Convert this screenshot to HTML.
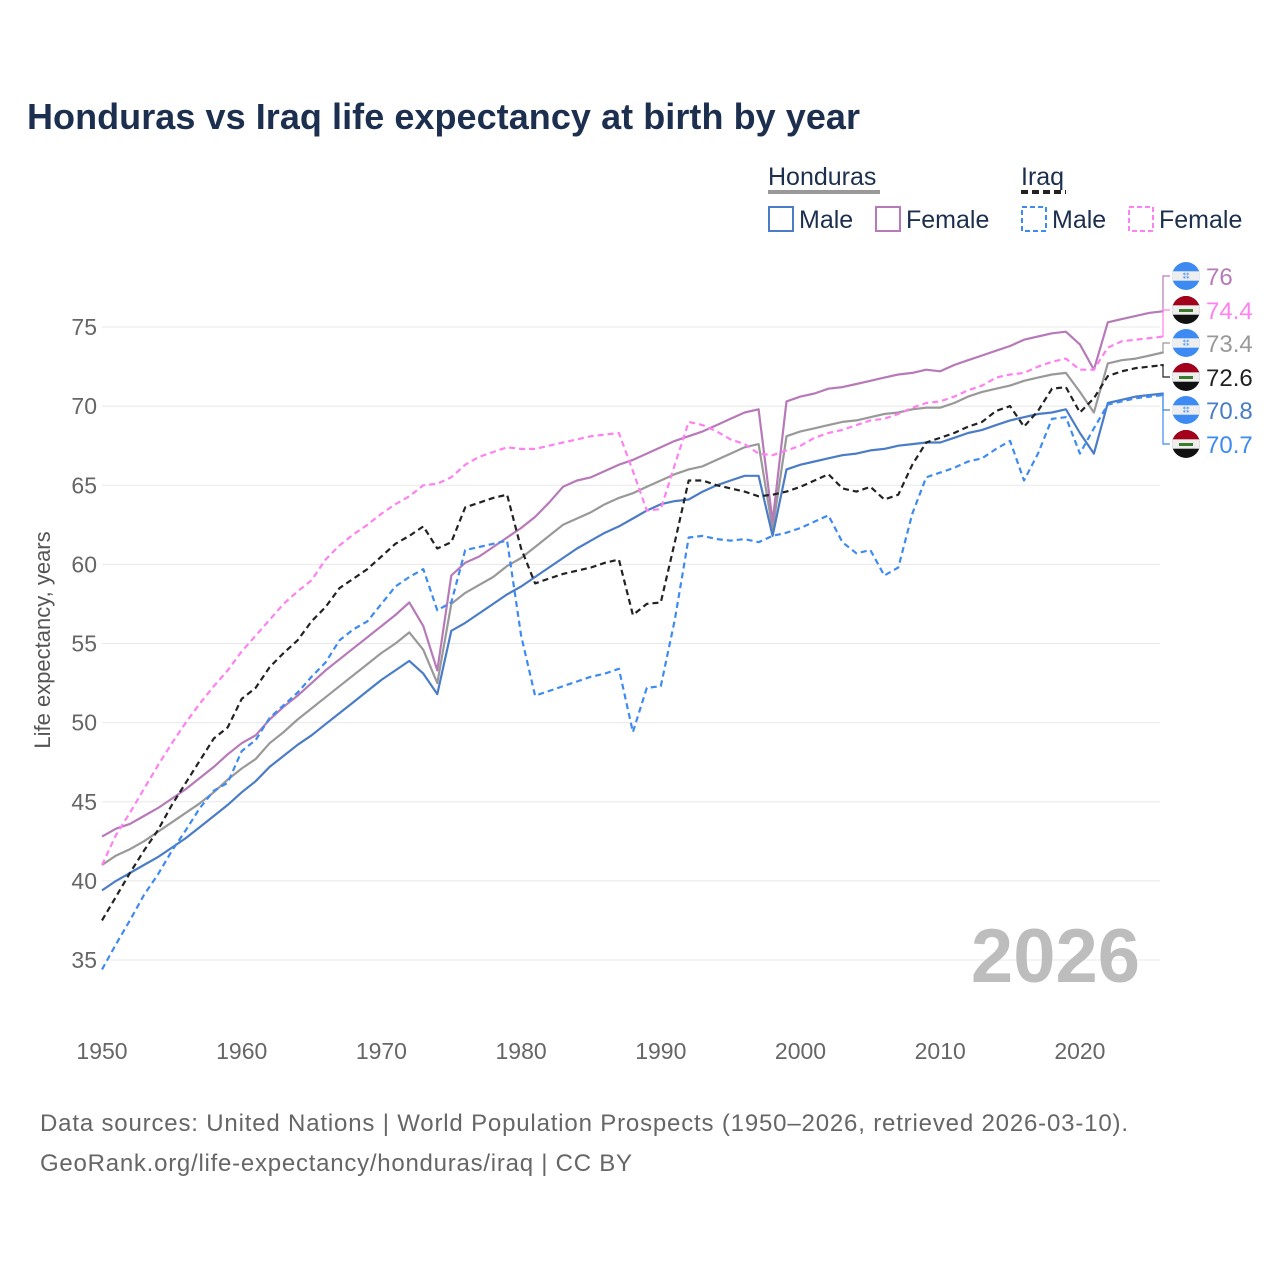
<!DOCTYPE html>
<html><head><meta charset="utf-8"><style>
body{margin:0;background:#fff;width:1280px;height:1280px;overflow:hidden;font-family:"Liberation Sans","DejaVu Sans",sans-serif}
</style></head><body>
<svg id="chart" width="1280" height="1280" xmlns="http://www.w3.org/2000/svg" font-family="Liberation Sans, DejaVu Sans, sans-serif">
<defs>
<clipPath id="cc"><circle cx="0" cy="0" r="14"/></clipPath>
</defs>
<text x="27" y="129" font-size="36" font-weight="bold" fill="#1c2f4f" textLength="833" lengthAdjust="spacing">Honduras vs Iraq life expectancy at birth by year</text>
<g font-size="25" fill="#1c2f4f">
<text x="768" y="185" fill="#1c2f4f">Honduras</text>
<line x1="768" y1="192" x2="880" y2="192" stroke="#999" stroke-width="4"/>
<text x="1021" y="185" fill="#1c2f4f">Iraq</text>
<line x1="1021" y1="192" x2="1066" y2="192" stroke="#222" stroke-width="4" stroke-dasharray="7,4"/>
<g><rect x="769" y="207" width="24" height="24" fill="none" stroke="#4a7cc7" stroke-width="2"/><text x="799" y="228">Male</text></g>
<g><rect x="876" y="207" width="24" height="24" fill="none" stroke="#b77ab8" stroke-width="2"/><text x="906" y="228">Female</text></g>
<g><rect x="1022" y="207" width="24" height="24" fill="none" stroke="#3d8bf2" stroke-width="2" stroke-dasharray="5,3"/><text x="1052" y="228">Male</text></g>
<g><rect x="1129" y="207" width="24" height="24" fill="none" stroke="#ff80f0" stroke-width="2" stroke-dasharray="5,3"/><text x="1159" y="228">Female</text></g>
</g>
<text transform="translate(50,640) rotate(-90)" text-anchor="middle" font-size="22" fill="#555">Life expectancy, years</text>
<g id="grid"></g>
<g id="xt"></g>
<text x="1140" y="982" text-anchor="end" font-size="76" font-weight="bold" fill="#bdbdbd">2026</text>
<g id="series"></g>
<g id="endlabels"></g>
<text x="40" y="1131" font-size="24" fill="#666" textLength="1088" lengthAdjust="spacing">Data sources: United Nations | World Population Prospects (1950–2026, retrieved 2026-03-10).</text>
<text x="40" y="1171" font-size="24" fill="#666" textLength="592" lengthAdjust="spacing">GeoRank.org/life-expectancy/honduras/iraq | CC BY</text>
</svg>
<script>
const years=[];for(let y=1950;y<=2026;y++)years.push(y);
const yTicks=[35,40,45,50,55,60,65,70,75];
const xTicks=[1950,1960,1970,1980,1990,2000,2010,2020];
const honMale=[39.4,40.0,40.5,41.0,41.5,42.1,42.7,43.4,44.1,44.8,45.6,46.3,47.2,47.9,48.6,49.2,49.9,50.6,51.3,52.0,52.7,53.3,53.9,53.1,51.8,55.8,56.3,56.9,57.5,58.1,58.6,59.2,59.8,60.4,61.0,61.5,62.0,62.4,62.9,63.4,63.8,64.0,64.1,64.6,65.0,65.3,65.6,65.6,61.8,66.0,66.3,66.5,66.7,66.9,67.0,67.2,67.3,67.5,67.6,67.7,67.7,68.0,68.3,68.5,68.8,69.1,69.3,69.5,69.6,69.8,68.3,67.0,70.2,70.4,70.6,70.7,70.8];
const honFemale=[42.8,43.3,43.6,44.1,44.6,45.2,45.8,46.5,47.2,48.0,48.7,49.2,50.2,51.0,51.7,52.5,53.3,54.0,54.7,55.4,56.1,56.8,57.6,56.1,53.3,59.3,60.1,60.5,61.1,61.7,62.3,63.0,63.9,64.9,65.3,65.5,65.9,66.3,66.6,67.0,67.4,67.8,68.1,68.4,68.8,69.2,69.6,69.8,62.7,70.3,70.6,70.8,71.1,71.2,71.4,71.6,71.8,72.0,72.1,72.3,72.2,72.6,72.9,73.2,73.5,73.8,74.2,74.4,74.6,74.7,73.9,72.3,75.3,75.5,75.7,75.9,76.0];
const honBoth=[41.0,41.6,42.0,42.5,43.1,43.7,44.3,44.9,45.6,46.4,47.1,47.7,48.7,49.4,50.2,50.9,51.6,52.3,53.0,53.7,54.4,55.0,55.7,54.6,52.5,57.5,58.2,58.7,59.2,59.9,60.4,61.1,61.8,62.5,62.9,63.3,63.8,64.2,64.5,64.9,65.3,65.7,66.0,66.2,66.6,67.0,67.4,67.6,62.2,68.1,68.4,68.6,68.8,69.0,69.1,69.3,69.5,69.6,69.8,69.9,69.9,70.2,70.6,70.9,71.1,71.3,71.6,71.8,72.0,72.1,70.9,69.6,72.7,72.9,73.0,73.2,73.4];
const iraqBoth=[37.5,39.0,40.5,41.9,43.2,44.8,46.2,47.6,49.0,49.7,51.5,52.2,53.5,54.4,55.2,56.4,57.3,58.5,59.1,59.7,60.5,61.3,61.8,62.4,61.0,61.4,63.6,63.9,64.2,64.4,61.0,58.8,59.1,59.4,59.6,59.8,60.1,60.3,56.8,57.5,57.6,61.4,65.3,65.3,65.0,64.8,64.6,64.3,64.4,64.6,64.9,65.3,65.7,64.8,64.6,64.9,64.1,64.4,66.3,67.7,68.0,68.3,68.7,69.0,69.7,70.0,68.7,69.7,71.1,71.2,69.6,70.5,71.9,72.2,72.4,72.5,72.6];
const iraqMale=[34.4,36.0,37.5,39.1,40.4,41.9,43.2,44.6,45.7,46.2,48.2,48.9,50.3,51.1,51.9,52.9,53.8,55.2,55.9,56.4,57.5,58.6,59.2,59.7,57.1,57.6,60.9,61.1,61.3,61.5,55.5,51.7,52.0,52.3,52.6,52.9,53.1,53.4,49.4,52.2,52.3,56.5,61.7,61.8,61.6,61.5,61.6,61.4,61.8,62.0,62.3,62.7,63.1,61.4,60.7,60.9,59.3,59.8,63.2,65.5,65.8,66.1,66.5,66.7,67.3,67.8,65.3,67.0,69.2,69.3,67.0,68.6,70.1,70.3,70.5,70.6,70.7];
const iraqFemale=[41.0,42.9,44.3,45.8,47.3,48.7,50.0,51.2,52.3,53.3,54.5,55.5,56.5,57.5,58.3,59.0,60.3,61.2,61.9,62.5,63.2,63.8,64.3,65.0,65.1,65.5,66.3,66.8,67.1,67.4,67.3,67.3,67.5,67.7,67.9,68.1,68.2,68.3,65.9,63.4,63.5,66.3,69.0,68.8,68.4,67.9,67.6,67.0,66.9,67.2,67.5,68.0,68.3,68.5,68.8,69.1,69.2,69.5,69.9,70.2,70.3,70.6,71.0,71.3,71.8,72.0,72.1,72.5,72.8,73.0,72.3,72.3,73.7,74.1,74.2,74.3,74.4];
const NS='http://www.w3.org/2000/svg';
const X=yr=>102+(yr-1950)*13.97;
const Y=v=>327+(75-v)*15.825;
function mk(tag,attrs,parent){const e=document.createElementNS(NS,tag);for(const k in attrs)e.setAttribute(k,attrs[k]);parent.appendChild(e);return e;}
const grid=document.getElementById('grid');
yTicks.forEach(t=>{
 const l=mk('line',{x1:102,x2:1160,y1:Y(t),y2:Y(t),stroke:'#e8e8e8','stroke-width':1},grid);
 
 
 const tx=mk('text',{x:97,y:Y(t)+8,'text-anchor':'end','font-size':23,fill:'#666'},grid);
 tx.textContent=t;
 
 
});
const xt=document.getElementById('xt');
xTicks.forEach(t=>{
 const tx=mk('text',{x:X(t),y:1059,'text-anchor':'middle','font-size':23,fill:'#666'},xt);
 tx.textContent=t;
 
 
});
const series=[
 {name:'honduras-both',data:honBoth,color:'#999999',dash:null},
 {name:'honduras-male',data:honMale,color:'#4a7cc7',dash:null},
 {name:'honduras-female',data:honFemale,color:'#b77ab8',dash:null},
 {name:'iraq-female',data:iraqFemale,color:'#ff80f0',dash:'6,4'},
 {name:'iraq-male',data:iraqMale,color:'#3d8bf2',dash:'6,4'},
 {name:'iraq-both',data:iraqBoth,color:'#222222',dash:'6,4'}
];
const sg=document.getElementById('series');
series.forEach(s=>{
 const d=s.data.map((v,i)=>(i?'L':'M')+X(years[i]).toFixed(1)+','+Y(v).toFixed(1)).join('');
 const p=mk('path',{d:d,fill:'none',stroke:s.color,'stroke-width':2.2,'stroke-linejoin':'round'},sg);
 if(s.dash)p.setAttribute('stroke-dasharray',s.dash);
 
 
});
const labels=[
 {name:'honduras-female',data:honFemale,color:'#b77ab8',flag:'hn',ly:276},
 {name:'iraq-female',data:iraqFemale,color:'#ff80f0',flag:'iq',ly:310},
 {name:'honduras-both',data:honBoth,color:'#999999',flag:'hn',ly:343},
 {name:'iraq-both',data:iraqBoth,color:'#222222',flag:'iq',ly:377},
 {name:'honduras-male',data:honMale,color:'#4a7cc7',flag:'hn',ly:410},
 {name:'iraq-male',data:iraqMale,color:'#3d8bf2',flag:'iq',ly:444}
];
const eg=document.getElementById('endlabels');
labels.forEach(l=>{
 const v=l.data[l.data.length-1];
 const y0=Y(v);
 const c=mk('path',{d:`M1160,${y0.toFixed(1)}H1163V${l.ly}H1170`,fill:'none',stroke:l.color,'stroke-width':1.2},eg);
 
 
 const g=mk('g',{transform:`translate(1186,${l.ly})`,'clip-path':'url(#cc)'},eg);
 
 
 if(l.flag==='hn'){
  mk('rect',{x:-14,y:-14,width:28,height:28,fill:'#3d8bf2'},g);
  mk('rect',{x:-14,y:-4.7,width:28,height:9.4,fill:'#eeeeee'},g);
  mk('text',{x:0,y:3,'text-anchor':'middle','font-size':7,fill:'#3d8bf2'},g).textContent='⁑⁑';
 }else{
  mk('rect',{x:-14,y:-14,width:28,height:28,fill:'#111'},g);
  mk('rect',{x:-14,y:-14,width:28,height:9.4,fill:'#a3001c'},g);
  mk('rect',{x:-14,y:-4.7,width:28,height:9.4,fill:'#eeeeee'},g);
  mk('rect',{x:-7,y:-1,width:14,height:3,fill:'#3c7a2c'},g);
 }
 const t=mk('text',{x:1206,y:l.ly+9,'font-size':24,fill:l.color},eg);
 t.textContent=v.toFixed(v%1===0?0:1);
 
 
});
</script>
</body></html>
